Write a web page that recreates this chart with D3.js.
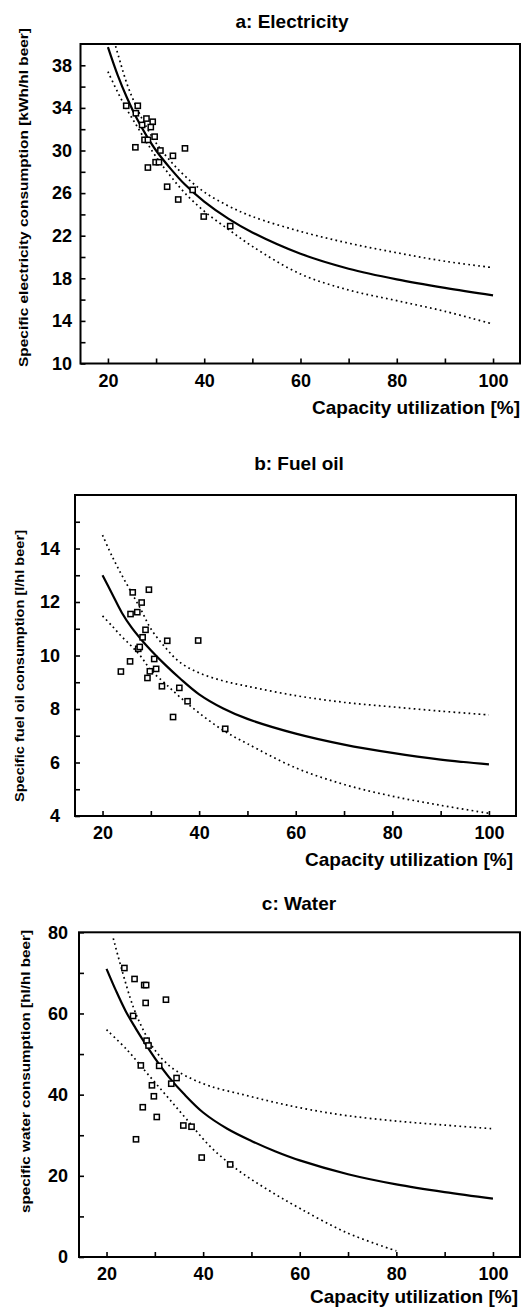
<!DOCTYPE html>
<html>
<head>
<meta charset="utf-8">
<script src="https://cdn.jsdelivr.net/npm/d3@7"></script>
<style>
  body { margin: 0; background: #fff; }
  svg text { font-family: "Liberation Sans", Arial, Helvetica, sans-serif; fill: #000; }
</style>
</head>
<body>
<div class="chart"></div>
<script>
var svgWidth = 524;
var svgHeight = 1310;

// ---- data ----
// a: Electricity
var aPointX = [23.8, 26.2, 25.8, 28.0, 29.3, 27.1, 28.9, 29.7, 27.6, 28.3, 25.7, 30.9, 36.0, 33.5, 29.9, 30.6, 28.3, 32.3, 37.6, 34.6, 39.9, 45.4];
var aPointY = [34.2, 34.2, 33.5, 33.0, 32.7, 32.4, 32.2, 31.3, 31.0, 31.0, 30.3, 30.0, 30.2, 29.5, 28.9, 28.9, 28.4, 26.6, 26.3, 25.4, 23.8, 22.9];
var aFitX = [20, 22, 24, 26, 28, 30, 33, 36, 40, 45, 50, 60, 70, 80, 90, 100];
var aFitY = [39.7, 37.1, 34.9, 33.0, 31.4, 30.0, 28.3, 26.8, 25.2, 23.6, 22.3, 20.3, 18.9, 17.9, 17.1, 16.4];
var aUpperX = [21.6, 24, 26, 28, 30, 33, 36, 40, 45, 50, 60, 70, 80, 90, 100];
var aUpperY = [39.8, 36.2, 34.0, 32.2, 30.7, 29.0, 27.6, 26.1, 24.8, 23.8, 22.4, 21.3, 20.4, 19.6, 19.0];
var aLowerX = [20, 22, 24, 26, 28, 30, 33, 36, 40, 45, 50, 60, 70, 80, 90, 100];
var aLowerY = [37.4, 35.5, 33.8, 32.3, 30.8, 29.4, 27.6, 26.0, 24.3, 22.6, 21.0, 18.4, 16.9, 15.9, 14.9, 13.7];
var aYTicks = [12, 14, 16, 18, 20, 22, 24, 26, 28, 30, 32, 34, 36, 38];
var aYLabels = [10, 14, 18, 22, 26, 30, 34, 38];

// b: Fuel oil
var bPointX = [26.25, 29.6, 28.1, 25.8, 27.2, 28.9, 28.3, 33.4, 39.8, 27.4, 27.7, 30.7, 25.7, 23.8, 29.8, 31.1, 29.3, 32.3, 35.9, 37.6, 34.6, 45.4];
var bPointY = [12.36, 12.46, 11.98, 11.55, 11.62, 10.96, 10.68, 10.55, 10.56, 10.25, 10.32, 9.87, 9.78, 9.40, 9.41, 9.50, 9.16, 8.85, 8.79, 8.29, 7.70, 7.26];
var bFitX = [20, 22, 24, 26, 28, 30, 33, 36, 40, 45, 50, 60, 70, 80, 90, 100];
var bFitY = [13.0, 12.3, 11.6, 11.05, 10.6, 10.2, 9.65, 9.15, 8.55, 8.02, 7.63, 7.08, 6.67, 6.36, 6.11, 5.93];
var bUpperX = [20, 22, 24, 26, 28, 30, 33, 36, 40, 45, 50, 60, 70, 80, 90, 100];
var bUpperY = [14.5, 13.7, 13.0, 12.35, 11.7, 11.0, 10.3, 9.75, 9.35, 9.05, 8.85, 8.5, 8.25, 8.08, 7.92, 7.78];
var bLowerX = [20, 22, 24, 26, 28, 30, 33, 36, 40, 45, 50, 60, 70, 80, 90, 100];
var bLowerY = [11.48, 11.1, 10.7, 10.35, 9.95, 9.45, 8.95, 8.45, 7.85, 7.2, 6.7, 5.8, 5.18, 4.74, 4.40, 4.1];
var bYTicks = [5, 6, 7, 8, 9, 10, 11, 12, 13, 14, 15];
var bYLabels = [4, 6, 8, 10, 12, 14];

// c: Water
var cPointX = [23.7, 25.8, 27.8, 28.2, 28.1, 32.3, 25.5, 28.3, 28.7, 27.1, 30.9, 34.5, 33.4, 29.4, 29.8, 27.5, 30.4, 35.9, 37.6, 26.1, 39.7, 45.6];
var cPointY = [71.2, 68.5, 67.0, 67.0, 62.6, 63.4, 59.4, 53.3, 52.1, 47.2, 47.1, 44.1, 42.7, 42.3, 39.6, 36.9, 34.5, 32.4, 32.1, 29.0, 24.5, 22.8];
var cFitX = [20, 22, 24, 26, 28, 30, 33, 36, 40, 45, 50, 55, 60, 70, 80, 90, 100];
var cFitY = [71.0, 65.5, 60.5, 56.4, 52.6, 49.0, 44.2, 40.2, 35.6, 31.6, 28.6, 26.0, 23.8, 20.4, 17.9, 16.0, 14.4];
var cUpperX = [21.4, 25.5, 28.3, 30, 33.1, 36.6, 41.4, 48.3, 55.2, 62.1, 70, 80, 90, 100];
var cUpperY = [78.5, 61.7, 54.3, 51.0, 47.0, 44.5, 42.1, 40.0, 38.0, 36.3, 34.8, 33.5, 32.5, 31.6];
var cLowerX = [20, 24.2, 28.3, 32.5, 36.6, 41.4, 47, 53.2, 60, 69.7, 80];
var cLowerY = [56.0, 51.1, 45.4, 39.6, 33.9, 27.3, 21.6, 16.7, 12.0, 6.0, 1.5];
var cYTicks = [10, 20, 30, 40, 50, 60, 70, 80];
var cYLabels = [0, 20, 40, 60, 80];

var xTicks = [20, 30, 40, 50, 60, 70, 80, 90, 100];
var xLabels = [20, 40, 60, 80, 100];
var xDomain = [14.3, 105.6];
var xTitle = "Capacity utilization [%]";

var panels = [
    { id: "a", title: "a: Electricity", ylabel: "Specific electricity consumption [kWh/hl beer]",
      left: 80.5, right: 520, top: 44, bottom: 363.5, yDomain: [10, 40],
      px: aPointX, py: aPointY, fx: aFitX, fy: aFitY, ux: aUpperX, uy: aUpperY, lx: aLowerX, ly: aLowerY,
      yTicks: aYTicks, yLabels: aYLabels,
      titleX: 292, titleY: 28, yPad: 8.5, xTitleRight: 520, xTitleY: 414, labX: 23, labMid: 197.5, labLen: 339 },
    { id: "b", title: "b: Fuel oil", ylabel: "Specific fuel oil consumption [l/hl beer]",
      left: 75, right: 516, top: 495, bottom: 816, yDomain: [4, 16],
      px: bPointX, py: bPointY, fx: bFitX, fy: bFitY, ux: bUpperX, uy: bUpperY, lx: bLowerX, ly: bLowerY,
      yTicks: bYTicks, yLabels: bYLabels,
      titleX: 299, titleY: 470, yPad: 15, xTitleRight: 513, xTitleY: 866, labX: 19, labMid: 666, labLen: 272 },
    { id: "c", title: "c: Water", ylabel: "specific water consumption [hl/hl beer]",
      left: 79, right: 520, top: 932.3, bottom: 1257, yDomain: [0, 80],
      px: cPointX, py: cPointY, fx: cFitX, fy: cFitY, ux: cUpperX, uy: cUpperY, lx: cLowerX, ly: cLowerY,
      yTicks: cYTicks, yLabels: cYLabels,
      titleX: 299, titleY: 910, yPad: 11, xTitleRight: 518, xTitleY: 1303, labX: 25, labMid: 1071.5, labLen: 283 }
];

var svg = d3.select(".chart")
    .append("svg")
    .attr("width", svgWidth)
    .attr("height", svgHeight);

panels.forEach(function (p) {
    var x = d3.scaleLinear().domain(xDomain).range([p.left, p.right]);
    var y = d3.scaleLinear().domain(p.yDomain).range([p.bottom, p.top]);

    var g = svg.append("g").attr("class", "panel-" + p.id);

    // clip for curves
    svg.append("clipPath").attr("id", "clip-" + p.id)
        .append("rect")
        .attr("x", p.left).attr("y", p.top)
        .attr("width", p.right - p.left).attr("height", p.bottom - p.top);

    // title
    g.append("text")
        .attr("x", p.titleX).attr("y", p.titleY)
        .attr("text-anchor", "middle")
        .style("font-size", "19px").style("font-weight", "bold")
        .text(p.title);

    // y axis: ticks point inward
    var yTickVals = p.yTicks.concat(p.yLabels).filter(function (v, i, arr) { return arr.indexOf(v) === i; });
    var leftAxis = d3.axisLeft(y)
        .tickValues(yTickVals)
        .tickSize(-5)
        .tickPadding(p.yPad)
        .tickFormat(function (d) { return p.yLabels.indexOf(d) >= 0 ? d : ""; });
    var yAxis = g.append("g")
        .attr("transform", `translate(${p.left},0)`)
        .call(leftAxis);

    var bottomAxis = d3.axisBottom(x)
        .tickValues(xTicks)
        .tickSize(-5)
        .tickPadding(10.5)
        .tickFormat(function (d) { return xLabels.indexOf(d) >= 0 ? d : ""; });
    var xAxis = g.append("g")
        .attr("transform", `translate(0,${p.bottom})`)
        .call(bottomAxis);

    [yAxis, xAxis].forEach(function (ax) {
        ax.select(".domain").remove();
        ax.selectAll(".tick line").attr("stroke", "#000").attr("stroke-width", 1.6);
        ax.selectAll(".tick text")
            .style("font-size", "18px").style("font-weight", "bold")
            .style("font-family", "'Liberation Sans', Arial, sans-serif");
    });

    // frame
    g.append("rect")
        .attr("x", p.left).attr("y", p.top)
        .attr("width", p.right - p.left).attr("height", p.bottom - p.top)
        .attr("fill", "none").attr("stroke", "#000").attr("stroke-width", 2);

    // x axis title
    g.append("text")
        .attr("x", p.xTitleRight).attr("y", p.xTitleY)
        .attr("text-anchor", "end")
        .style("font-size", "19px").style("font-weight", "bold")
        .text(xTitle);

    // y axis title
    g.append("text")
        .attr("transform", `translate(${p.labX},${p.labMid}) rotate(-90)`)
        .attr("text-anchor", "middle")
        .attr("dy", "0.35em")
        .attr("textLength", p.labLen)
        .attr("lengthAdjust", "spacingAndGlyphs")
        .style("font-size", "13px").style("font-weight", "bold")
        .text(p.ylabel);

    var line = d3.line()
        .x(d => x(d[0]))
        .y(d => y(d[1]))
        .curve(d3.curveCatmullRom.alpha(0.5));

    var curves = g.append("g").attr("clip-path", `url(#clip-${p.id})`);

    curves.append("path")
        .datum(d3.zip(p.ux, p.uy))
        .attr("d", line)
        .attr("fill", "none").attr("stroke", "#000")
        .attr("stroke-width", 1.7).attr("stroke-dasharray", "1.7,3.3");

    curves.append("path")
        .datum(d3.zip(p.lx, p.ly))
        .attr("d", line)
        .attr("fill", "none").attr("stroke", "#000")
        .attr("stroke-width", 1.7).attr("stroke-dasharray", "1.7,3.3");

    curves.append("path")
        .datum(d3.zip(p.fx, p.fy))
        .attr("d", line)
        .attr("fill", "none").attr("stroke", "#000")
        .attr("stroke-width", 2.2);

    // data squares
    g.append("g").selectAll("rect")
        .data(d3.zip(p.px, p.py))
        .enter()
        .append("rect")
        .attr("x", d => x(d[0]) - 2.6)
        .attr("y", d => y(d[1]) - 2.6)
        .attr("width", 5.2)
        .attr("height", 5.2)
        .attr("fill", "#fff")
        .attr("stroke", "#000")
        .attr("stroke-width", 1.5);
});
</script>
</body>
</html>
